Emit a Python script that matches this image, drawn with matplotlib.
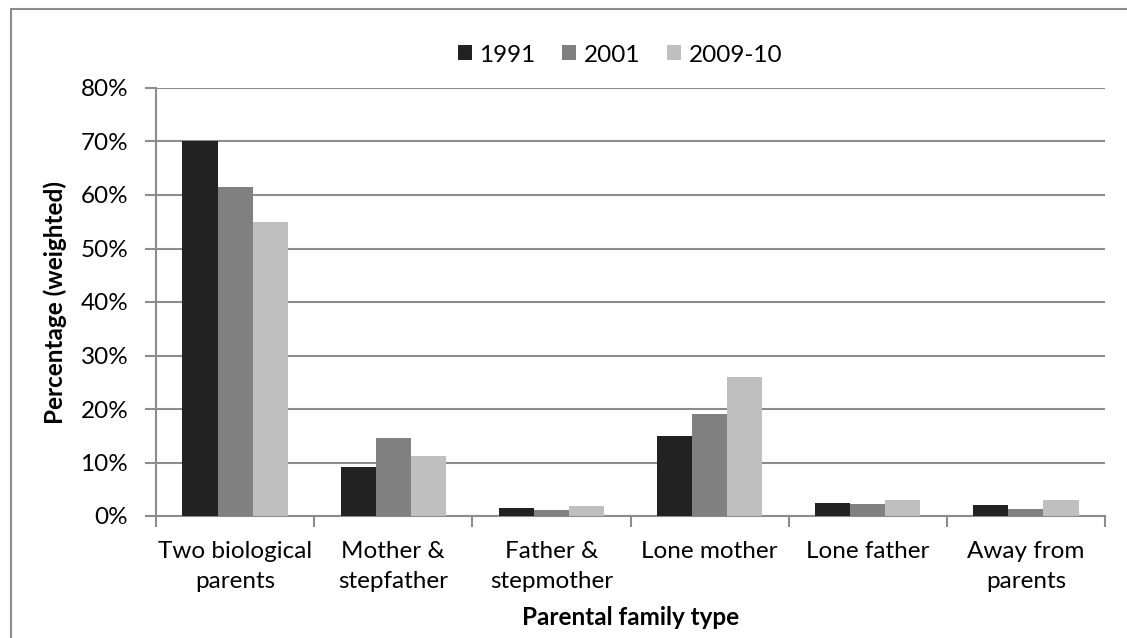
import numpy as np
import matplotlib
matplotlib.use('Agg')
import matplotlib.pyplot as plt
from matplotlib.patches import Rectangle
from matplotlib.ticker import FuncFormatter

plt.rcParams['font.family'] = ['Lato', 'DejaVu Sans']

categories = ['Two biological\nparents', 'Mother &\nstepfather', 'Father &\nstepmother',
              'Lone mother', 'Lone father', 'Away from\nparents']
years = ['1991', '2001', '2009-10']
v1991 = [70.0, 9.1, 1.5, 15.0, 2.5, 2.0]
v2001 = [61.5, 14.6, 1.1, 19.0, 2.2, 1.4]
v2009 = [55.0, 11.3, 1.8, 26.0, 3.0, 3.0]
colors = ['#222222', '#808080', '#bfbfbf']

fs = 17.5

fig = plt.figure(figsize=(11.27, 6.38), dpi=100, facecolor='white')
ax = fig.add_axes([156/1127, 122/638, (1105-156)/1127, (516-88)/638])

x = np.arange(len(categories))
w = 0.222
for i, (vals, c, lab) in enumerate(zip([v1991, v2001, v2009], colors, years)):
    ax.bar(x + (i - 1) * w, vals, width=w, color=c, label=lab, zorder=3)

ax.set_xlim(-0.5, len(categories) - 0.5)
ax.set_ylim(0, 80)
ax.set_yticks(np.arange(0, 81, 10))
ax.yaxis.set_major_formatter(FuncFormatter(lambda v, p: '%d%%' % v))
ax.grid(axis='y', color='#8c8c8c', lw=1.5, zorder=0)

# category boundary ticks on x axis
ax.set_xticks(np.arange(-0.5, len(categories), 1.0))
ax.set_xticklabels([])
ax.set_xticks(x, minor=True)
ax.set_xticklabels(categories, minor=True, fontsize=fs, linespacing=1.55)
ax.tick_params(axis='x', which='minor', length=0, pad=18)
ax.tick_params(axis='x', which='major', length=8, width=1.5, color='#8c8c8c')
ax.tick_params(axis='y', length=8, width=1.5, color='#8c8c8c', labelsize=fs, pad=12)

for s in ['top', 'right']:
    ax.spines[s].set_visible(False)
for s in ['left', 'bottom']:
    ax.spines[s].set_color('#8c8c8c')
    ax.spines[s].set_linewidth(1.5)

ax.set_ylabel('Percentage (weighted)', fontsize=fs, fontweight='bold', labelpad=10)
ax.set_xlabel('Parental family type', fontsize=fs, fontweight='bold', labelpad=10)

ax.legend(loc='center', bbox_to_anchor=(620/1127, 1 - 55/638), bbox_transform=fig.transFigure,
          ncol=3, frameon=False, fontsize=fs, handlelength=0.58, handleheight=0.58,
          handletextpad=0.3, columnspacing=1.1, borderpad=0)

# outer chart border
fig.patches.append(Rectangle((11/1127, -0.1), 1.2, 1.1 - 9/638, transform=fig.transFigure,
                             fill=False, edgecolor='#8c8c8c', lw=1.5))

fig.savefig('out.png', dpi=100)
